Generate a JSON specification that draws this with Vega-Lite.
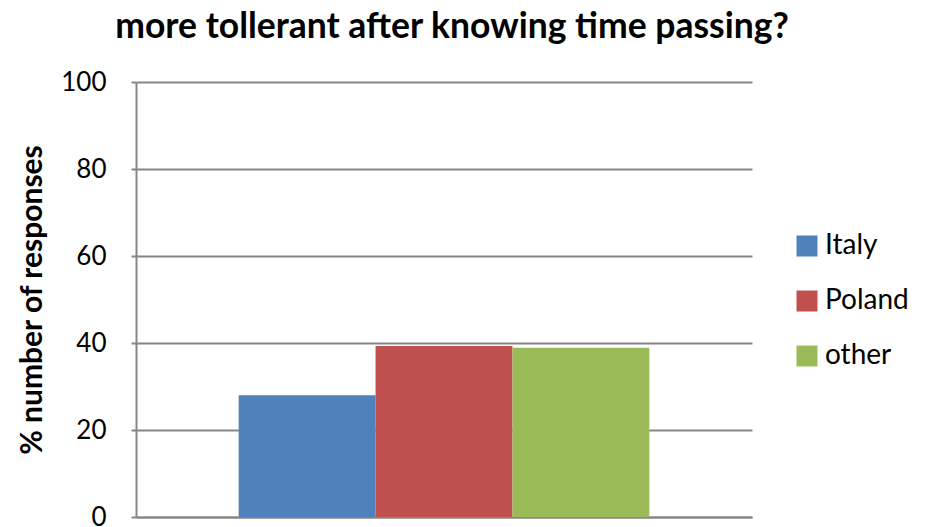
{
  "$schema": "https://vega.github.io/schema/vega-lite/v6.json",
  "width": 616,
  "height": 435,
  "autosize": {"type": "none"},
  "padding": {"left": 136, "top": 82, "right": 178, "bottom": 10},
  "background": "white",
  "title": {
    "text": "more tollerant after knowing time passing?",
    "font": "Lato",
    "fontSize": 35.5,
    "fontWeight": "bold",
    "color": "black",
    "anchor": "middle",
    "dx": 8,
    "offset": 24
  },
  "data": {
    "values": [
      {"country": "Italy", "pct": 28.0},
      {"country": "Poland", "pct": 39.3},
      {"country": "other", "pct": 38.9}
    ]
  },
  "config": {
    "view": {"stroke": null},
    "font": "Lato"
  },
  "mark": {"type": "bar"},
  "encoding": {
    "x": {
      "field": "country",
      "type": "nominal",
      "sort": ["Italy", "Poland", "other"],
      "scale": {"paddingInner": 0, "paddingOuter": 0.75},
      "axis": {
        "labels": false,
        "ticks": false,
        "title": null,
        "domainColor": "#868686",
        "domainWidth": 2
      }
    },
    "y": {
      "field": "pct",
      "type": "quantitative",
      "scale": {"domain": [0, 100], "nice": false},
      "axis": {
        "values": [0, 20, 40, 60, 80, 100],
        "title": "% number of responses",
        "titleFont": "Lato",
        "titleFontSize": 30,
        "titleFontWeight": "bold",
        "titleColor": "black",
        "titlePadding": 13,
        "labelFont": "Lato",
        "labelFontSize": 26,
        "labelColor": "black",
        "labelPadding": 25,
        "tickColor": "#868686",
        "tickSize": 5,
        "tickWidth": 2,
        "domainColor": "#868686",
        "domainWidth": 2,
        "gridColor": "#868686",
        "gridWidth": 2
      }
    },
    "color": {
      "field": "country",
      "type": "nominal",
      "sort": ["Italy", "Poland", "other"],
      "scale": {
        "domain": ["Italy", "Poland", "other"],
        "range": ["#4F81BD", "#C0504D", "#9BBB59"]
      },
      "legend": {
        "title": null,
        "orient": "none",
        "legendX": 657,
        "legendY": 150,
        "symbolType": "square",
        "symbolSize": 441,
        "symbolStrokeWidth": 0,
        "labelFont": "Lato",
        "labelFontSize": 28,
        "labelColor": "black",
        "labelOffset": 4,
        "rowPadding": 27
      }
    }
  }
}
